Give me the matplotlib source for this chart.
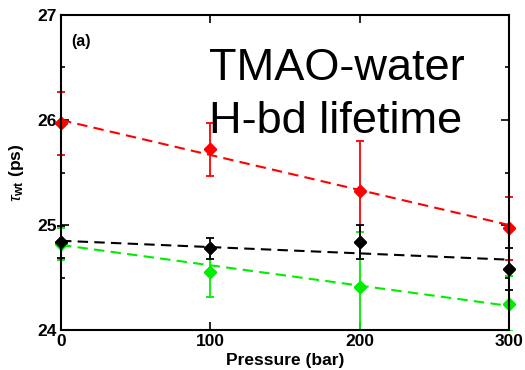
import numpy as np
import matplotlib
matplotlib.use('Agg')
import matplotlib.pyplot as plt
from matplotlib.ticker import MultipleLocator
from matplotlib.patches import Rectangle

plt.rcParams['font.family'] = ['Liberation Sans', 'DejaVu Sans']
plt.rcParams['mathtext.fontset'] = 'custom'
plt.rcParams['mathtext.rm'] = 'Liberation Sans'
plt.rcParams['mathtext.bf'] = 'Liberation Sans:bold'
plt.rcParams['mathtext.it'] = 'Liberation Sans:italic'

# pressure points (bar)
pressure = [0, 100, 200, 300]

# lifetimes (ps) and error bars
red_tau = [25.97, 25.72, 25.32, 24.97]
red_err = [0.30, 0.25, 0.48, 0.30]
black_tau = [24.84, 24.78, 24.84, 24.58]
black_err = [0.15, 0.10, 0.16, 0.20]
green_tau = [24.82, 24.55, 24.41, 24.25]
green_err = [0.15, 0.24, 0.52, 0.26]

# linear fits, value at 0 and 300 bar
fit_p = [0, 300]
red_fit = [26.00, 25.00]
black_fit = [24.85, 24.67]
green_fit = [24.81, 24.23]

fig = plt.figure(figsize=(5.25, 3.7), dpi=100, facecolor='white')
ax = fig.add_axes([0.1162, 0.108, 0.8533, 0.8515])

series = [(green_tau, green_err, green_fit, '#00ee00'),
          (red_tau, red_err, red_fit, 'red'),
          (black_tau, black_err, black_fit, 'black')]

for tau, err, fit, col in series:
    ax.plot(fit_p, fit, '--', color=col, lw=1.5, dashes=(5, 3), clip_on=False)
    eb = ax.errorbar(pressure, tau, yerr=err, fmt='D', color=col, ms=6,
                     elinewidth=1.3, capsize=3, capthick=1.3)
    # clip only top/bottom so the bars on the side axes stay whole
    clip = Rectangle((-0.05, 0), 1.1, 1.0, transform=ax.transAxes)
    for art in eb.get_children():
        art.set_clip_path(clip)
    ax.plot(pressure, tau, 'D', color=col, ms=6, clip_on=False)

ax.set_xlim(0, 300)
ax.set_ylim(24, 27)
ax.set_xticks([0, 100, 200, 300])
ax.set_yticks([24, 25, 26, 27])
ax.yaxis.set_minor_locator(MultipleLocator(0.5))
ax.tick_params(which='both', direction='in', top=True, right=True, width=1.2)
ax.tick_params(which='major', length=6, labelsize=12.5, pad=3)
ax.tick_params(which='minor', length=3)
for lab in ax.get_xticklabels() + ax.get_yticklabels():
    lab.set_fontweight('bold')
for s in ax.spines.values():
    s.set_linewidth(1.5)

ax.set_xlabel('Pressure (bar)', fontsize=12.5, fontweight='bold', labelpad=3)
ax.set_ylabel(r'$\tau_{\mathbf{wt}}$ (ps)', fontsize=12.5, fontweight='bold', labelpad=8)

ax.text(0.022, 0.917, '(a)', transform=ax.transAxes, fontsize=11.5,
        fontweight='bold', va='center', ha='left')
ax.text(0.330, 0.794, 'TMAO-water', transform=ax.transAxes, fontsize=32.5,
        va='baseline', ha='left')
ax.text(0.330, 0.625, 'H-bd lifetime', transform=ax.transAxes, fontsize=32.5,
        va='baseline', ha='left')

plt.savefig('out.png', dpi=100, facecolor='white')
